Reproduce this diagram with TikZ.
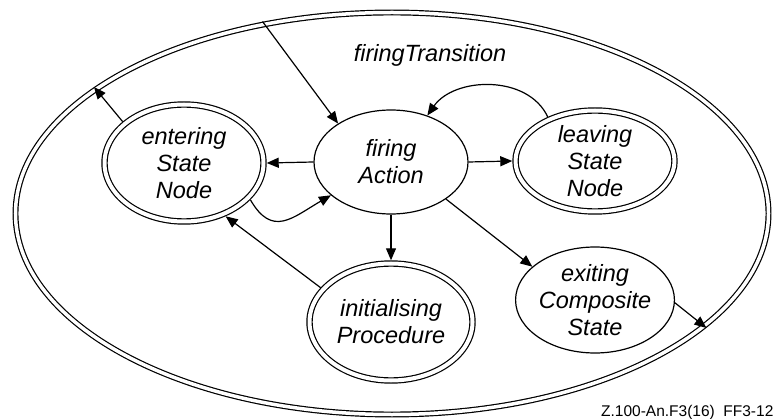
\documentclass[tikz,border=0pt]{standalone}
\usepackage{fontspec}
\setmainfont{Liberation Sans}
\usetikzlibrary{shapes.geometric,arrows.meta}

\begin{document}
\begin{tikzpicture}[x=1pt,y=-1pt,line width=1.2pt,>={Triangle[length=12pt,width=10pt]},
    state/.style={ellipse,draw,inner sep=0pt,align=center,
      font=\fontsize{23.5}{27}\selectfont\itshape},
    dstate/.style={state,double,double distance=4pt,outer sep=3.2pt}]
       \useasboundingbox(0,0)rectangle(775,419);
       \node[dstate,double distance=3.5pt,minimum width=753pt,minimum height=402pt](trans)at(392,213.5){};%外側の状態
       \node[state,draw=none](title)at(430,55){firingTransition};%名前

       \node[dstate,minimum width=159pt,minimum height=117pt](enter)at(184,163){entering\\State\\Node};
       \node[state,minimum width=154pt,minimum height=104pt](fire)at(391,162){firing\\Action};
       \node[dstate,minimum width=159pt,minimum height=101pt](leave)at(595,161){leaving\\State\\Node};
       \node[dstate,minimum width=163pt,minimum height=117pt](init)at(391,322){initialising\\Procedure};
       \node[state,minimum width=154pt,minimum height=106pt](exit)at(595,300){exiting\\Composite\\State};

       \draw[->](trans.124)--(fire.144);%入口
       \draw[->](enter.146)--(trans.157.4);
       \draw[->](fire.west)--(enter.east);
       \draw[->](fire.east)--(leave.west);
       \draw[->](leave.137)to[out=115,in=55](fire.52);
       \draw[->](enter.-29)to[out=-60,in=-150,looseness=1.4](fire.209);
       \draw[->](fire.south)--(init.north);
       \draw[->](init.154)--(enter.-52);
       \draw[->](fire.-34)--(exit.152);
       \draw[->](exit.-2)--(trans.-20.4);%出口

       \node[anchor=base east,inner sep=1pt,font=\fontsize{15.5}{17}\selectfont](fig)at(775,416){Z.100-An.F3(16)\ \ FF3-12};
\end{tikzpicture}
\end{document}
